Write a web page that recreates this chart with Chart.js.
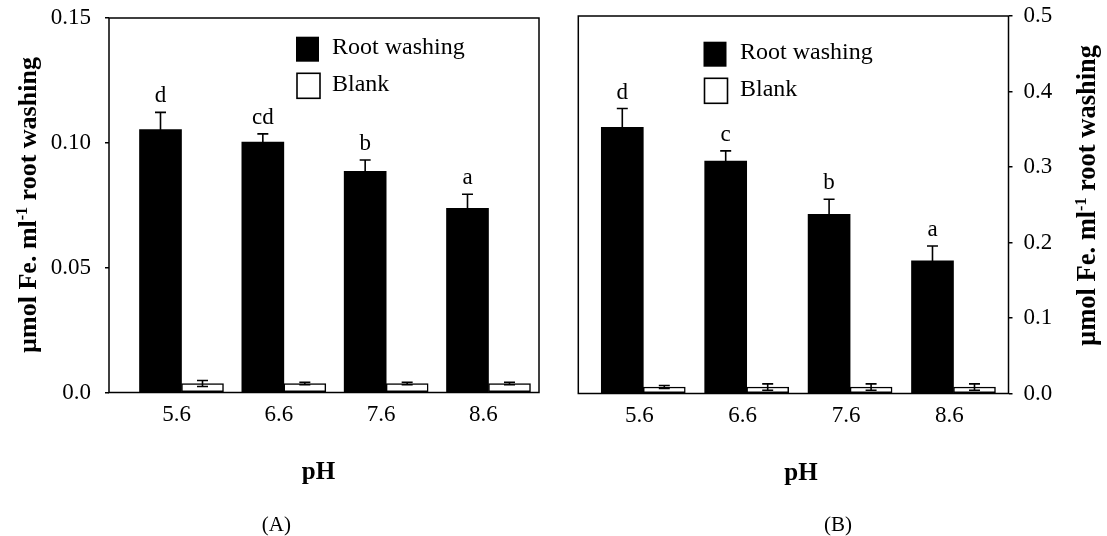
<!DOCTYPE html>
<html><head><meta charset="utf-8">
<script src="https://cdn.jsdelivr.net/npm/chart.js@4.4.1/dist/chart.umd.min.js"></script>
<style>
html,body{margin:0;padding:0;background:#fff;}
#wrap{position:relative;width:1107px;height:536px;overflow:hidden;background:#fff;}
#cA{position:absolute;left:0;top:0;}
#cB{position:absolute;left:553px;top:0;}
</style></head><body>
<div id="wrap"><canvas id="cA" width="553" height="536"></canvas><canvas id="cB" width="554" height="536"></canvas></div>
<script>
// ---- data ----
const phValues = [5.6, 6.6, 7.6, 8.6];
const phLabels = ['5.6', '6.6', '7.6', '8.6'];
const seriesNames = ['Root washing', 'Blank'];
const xTitle = 'pH';
const yTitleMain = 'µmol Fe. ml';
const yTitleSup = '-1';
const yTitleEnd = ' root washing';

// Panel A
const rootA = [0.1053, 0.1003, 0.0886, 0.0738];
const rootErrA = [0.0069, 0.0033, 0.0045, 0.0056];
const blankA = [0.0036, 0.0036, 0.0036, 0.0036];
const blankErrA = [0.0012, 0.0005, 0.0005, 0.0005];
const lettersA = ['d', 'cd', 'b', 'a'];
const yTicksA = [0, 0.05, 0.10, 0.15];
const yTickLabelsA = ['0.0', '0.05', '0.10', '0.15'];

// Panel B
const rootB = [0.3527, 0.3077, 0.2374, 0.1756];
const rootErrB = [0.0247, 0.0136, 0.0199, 0.0198];
const blankB = [0.0086, 0.0086, 0.0086, 0.0086];
const blankErrB = [0.002, 0.0042, 0.0042, 0.0042];
const lettersB = ['d', 'c', 'b', 'a'];
const yTicksB = [0, 0.1, 0.2, 0.3, 0.4, 0.5];
const yTickLabelsB = ['0.0', '0.1', '0.2', '0.3', '0.4', '0.5'];

Chart.defaults.font.family = "'Liberation Serif', 'Times New Roman', serif";
Chart.defaults.color = '#000';

const FONT = "'Liberation Serif', 'Times New Roman', serif";

function makePanel(P) {
  const overlay = {
    id: 'overlay_' + P.id,
    afterDatasetsDraw(chart) {
      const ctx = chart.ctx;
      const ys = chart.scales.y;
      const sets = [[0, P.root, P.rootErr], [1, P.blank, P.blankErr]];
      ctx.save();
      ctx.strokeStyle = '#000';
      ctx.lineWidth = 1.6;
      sets.forEach(([di, vals, errs]) => {
        const meta = chart.getDatasetMeta(di);
        meta.data.forEach((bar, i) => {
          const x = bar.x;
          const t = ys.getPixelForValue(vals[i] + errs[i]);
          const b = ys.getPixelForValue(Math.max(vals[i] - errs[i], 0));
          const cw = 5.5;
          ctx.beginPath();
          ctx.moveTo(x, t); ctx.lineTo(x, b);
          ctx.moveTo(x - cw, t); ctx.lineTo(x + cw, t);
          ctx.moveTo(x - cw, b); ctx.lineTo(x + cw, b);
          ctx.stroke();
        });
      });
      // significance letters
      const meta0 = chart.getDatasetMeta(0);
      ctx.fillStyle = '#000';
      ctx.font = '23px ' + FONT;
      ctx.textAlign = 'center';
      ctx.textBaseline = 'alphabetic';
      meta0.data.forEach((bar, i) => {
        const t = ys.getPixelForValue(P.root[i] + P.rootErr[i]);
        ctx.fillText(P.letters[i], bar.x, t - 10);
      });
      ctx.restore();
    },
    afterDraw(chart) {
      const ctx = chart.ctx;
      const a = chart.chartArea;
      ctx.save();
      // frame
      ctx.strokeStyle = '#000';
      ctx.lineWidth = 1.5;
      ctx.strokeRect(a.left, a.top, a.right - a.left, a.bottom - a.top);
      // legend
      const L = P.legend;
      ctx.fillStyle = '#000';
      ctx.fillRect(L.x, L.y1, L.w, L.h);
      ctx.fillStyle = '#fff';
      ctx.fillRect(L.x + 1, L.y2, L.w, L.h);
      ctx.lineWidth = 1.6;
      ctx.strokeRect(L.x + 1, L.y2, L.w, L.h);
      ctx.fillStyle = '#000';
      ctx.font = '24px ' + FONT;
      ctx.textAlign = 'left';
      ctx.textBaseline = 'middle';
      ctx.fillText(seriesNames[0], L.tx, L.y1 + L.h / 2 - 1);
      ctx.fillText(seriesNames[1], L.tx, L.y2 + L.h / 2 - 1);
      // x title
      ctx.font = 'bold 25px ' + FONT;
      ctx.textAlign = 'center';
      ctx.fillText(xTitle, P.pH.x, P.pH.y);
      // panel label
      ctx.font = '21px ' + FONT;
      ctx.fillText(P.panel.text, P.panel.x, P.panel.y);
      // y title rotated with superscript
      ctx.translate(P.yt.x, P.yt.y);
      ctx.rotate(-Math.PI / 2);
      const fs = P.yt.size;
      const fMain = 'bold ' + fs + 'px ' + FONT;
      const fSup = 'bold ' + Math.round(fs * 0.6) + 'px ' + FONT;
      ctx.font = fMain;
      const w1 = ctx.measureText(yTitleMain).width;
      const w3 = ctx.measureText(yTitleEnd).width;
      ctx.font = fSup;
      const w2 = ctx.measureText(yTitleSup).width;
      const total = w1 + w2 + w3;
      let sx = -total / 2;
      const base = 6;
      ctx.textAlign = 'left';
      ctx.textBaseline = 'alphabetic';
      ctx.font = fMain;
      ctx.fillText(yTitleMain, sx, base);
      sx += w1;
      ctx.font = fSup;
      ctx.fillText(yTitleSup, sx, base - 9);
      sx += w2;
      ctx.font = fMain;
      ctx.fillText(yTitleEnd, sx, base);
      ctx.restore();
    }
  };

  return new Chart(document.getElementById(P.id), {
    type: 'bar',
    data: {
      datasets: [
        {
          label: seriesNames[0],
          data: P.root.map((v, i) => ({ x: phValues[i], y: v })),
          backgroundColor: '#000',
          borderWidth: 0,
          barThickness: 42
        },
        {
          label: seriesNames[1],
          data: P.blank.map((v, i) => ({ x: phValues[i], y: v })),
          backgroundColor: '#fff',
          borderColor: '#000',
          borderWidth: 1.5,
          borderSkipped: false,
          barThickness: 42
        }
      ]
    },
    options: {
      responsive: false,
      animation: false,
      events: [],
      layout: { padding: { left: P.padL, right: P.padR, top: P.padT, bottom: P.padB } },
      plugins: { legend: { display: false }, tooltip: { enabled: false } },
      scales: {
        x: {
          type: 'linear',
          offset: false,
          min: P.xMin,
          max: P.xMax,
          afterBuildTicks: s => { s.ticks = phValues.map(v => ({ value: v })); },
          afterFit: s => { s.height = 60; s.paddingLeft = 0; s.paddingRight = 0; },
          grid: { display: false, drawTicks: false, offset: false },
          border: { display: false },
          ticks: {
            autoSkip: false,
            maxRotation: 0,
            padding: 9,
            labelOffset: P.labelOffset,
            font: { size: 23 },
            color: '#000',
            callback: (v, i) => phLabels[i]
          }
        },
        y: {
          position: P.yPos,
          min: 0,
          max: P.yMax,
          afterBuildTicks: s => { s.ticks = P.yTicks.map(v => ({ value: v })); },
          afterFit: s => { s.width = P.yWidth; s.paddingTop = 0; s.paddingBottom = 0; },
          grid: { display: true, drawOnChartArea: false, drawTicks: true, tickLength: 4, color: '#000', lineWidth: 1.5 },
          border: { display: false },
          ticks: {
            padding: P.tickPad,
            font: { size: 23 },
            color: '#000',
            callback: (v, i) => P.yTickLabels[i]
          }
        }
      }
    },
    plugins: [overlay]
  });
}

makePanel({
  id: 'cA', root: rootA, rootErr: rootErrA, blank: blankA, blankErr: blankErrA, letters: lettersA,
  yTicks: yTicksA, yTickLabels: yTickLabelsA, yMax: 0.15, yPos: 'left', yWidth: 109,
  padL: 0, padR: 14, padT: 18, padB: 83.5, xMin: 4.8915, xMax: 9.0935, labelOffset: -5, tickPad: 14,
  legend: { x: 296, y1: 36.7, y2: 73.3, w: 23, h: 25, tx: 332 },
  pH: { x: 318.5, y: 473 }, panel: { text: '(A)', x: 276.4, y: 525 },
  yt: { x: 30.4, y: 205, size: 26 }
});

makePanel({
  id: 'cB', root: rootB, rootErr: rootErrB, blank: blankB, blankErr: blankErrB, letters: lettersB,
  yTicks: yTicksB, yTickLabels: yTickLabelsB, yMax: 0.5, yPos: 'right', yWidth: 98.5,
  padL: 25.3, padR: 0, padT: 16, padB: 82.5, xMin: 4.9714, xMax: 9.132, labelOffset: -4, tickPad: 11,
  legend: { x: 150.5, y1: 41.7, y2: 78.3, w: 23, h: 25, tx: 187 },
  pH: { x: 248, y: 474 }, panel: { text: '(B)', x: 285, y: 525 },
  yt: { x: 536, y: 195.5, size: 26.5 }
});
</script>
</body></html>
